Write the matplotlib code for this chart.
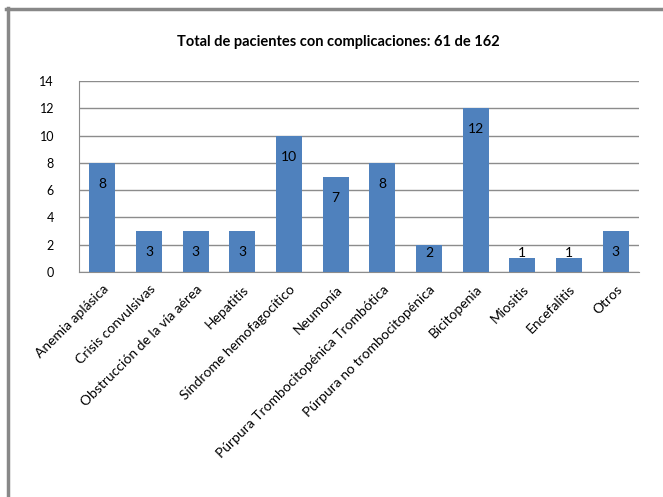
import matplotlib
matplotlib.use("Agg")
import matplotlib.pyplot as plt
from matplotlib.lines import Line2D

categories = ["Anemia aplásica", "Crisis convulsivas", "Obstrucción de la vía aérea",
              "Hepatitis", "Síndrome hemofagocítico", "Neumonía",
              "Púrpura Trombocitopénica Trombótica", "Púrpura no trombocitopénica",
              "Bicitopenia", "Miositis", "Encefalitis", "Otros"]
values = [8, 3, 3, 3, 10, 7, 8, 2, 12, 1, 1, 3]
yticks = [0, 2, 4, 6, 8, 10, 12, 14]
title = "Total de pacientes con complicaciones: 61 de 162"

plt.rcParams['font.family'] = ['Lato', 'DejaVu Sans']

fig = plt.figure(figsize=(6.63, 4.97), dpi=100)
ax = fig.add_axes([79/663, 1-272/497, (639-79)/663, (272-81)/497])

x = list(range(len(categories)))
bars = ax.bar(x, values, width=0.56, color="#4f81bd", zorder=3)
for xi, v in zip(x, values):
    ax.text(xi, max(v - 1.55, 1.4), str(v), ha="center", va="center", fontsize=10,
            color="black", zorder=4)

ax.set_xlim(-0.5, len(categories)-0.5)
ax.set_ylim(0, 14)
ax.set_yticks(yticks)
ax.set_yticklabels([str(t) for t in yticks], fontsize=9)
ax.yaxis.grid(True, color="#8c8c8c", linewidth=1, zorder=0)
ax.set_xticks(x)
ax.set_xticklabels(categories, rotation=45, ha="right", rotation_mode="anchor", fontsize=10)
ax.tick_params(axis="both", length=0)
ax.tick_params(axis="y", pad=18)
ax.tick_params(axis="x", pad=8)
for s in ["top", "right"]:
    ax.spines[s].set_visible(False)
for s in ["left", "bottom"]:
    ax.spines[s].set_color("#8c8c8c")

fig.text(338/663, 1-42/497, title, ha="center", va="center", fontsize=10.5, fontweight="bold")

fig.add_artist(Line2D([7.5/663, 7.5/663], [0, 1-8/497], transform=fig.transFigure, color="#888888", linewidth=2.5))
fig.add_artist(Line2D([6.3/663, 1], [1-8.5/497, 1-8.5/497], transform=fig.transFigure, color="#888888", linewidth=2.5))

fig.savefig("out.png", dpi=100)
